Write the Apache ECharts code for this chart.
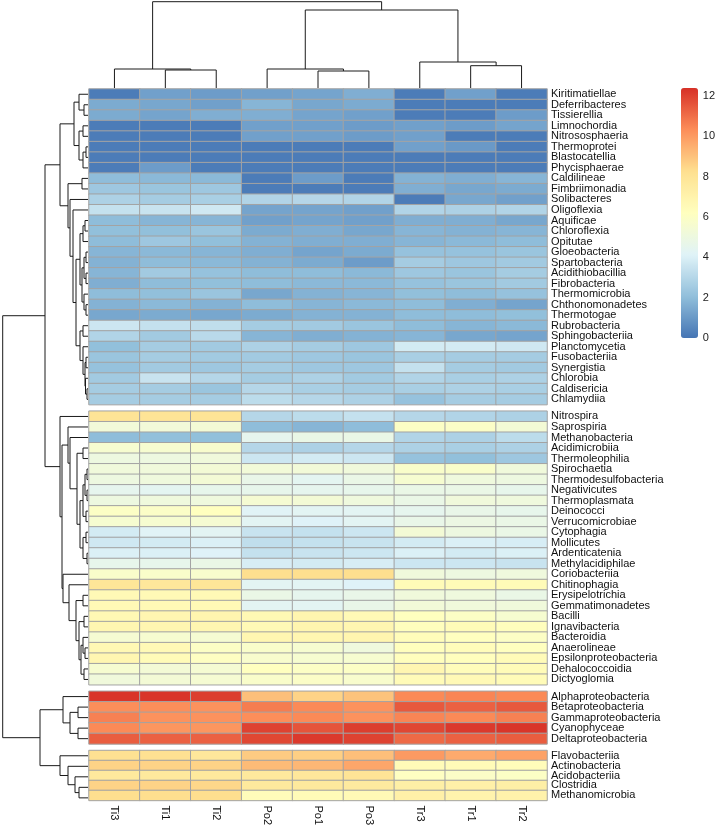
<!DOCTYPE html>
<html><head><meta charset="utf-8">
<script src="https://cdn.jsdelivr.net/npm/echarts@6/dist/echarts.min.js"></script>
<style>html,body{margin:0;padding:0;background:#fff}#c{width:718px;height:828px}</style>
</head><body><div id="c"></div>
<script>
// ---------------- DATA ----------------
const columns = ['Ti3','Ti1','Ti2','Po2','Po1','Po3','Tr3','Tr1','Tr2'];

const group1Names = ['Kiritimatiellae','Deferribacteres','Tissierellia','Limnochordia','Nitrososphaeria','Thermoprotei','Blastocatellia','Phycisphaerae','Caldilineae','Fimbriimonadia','Solibacteres','Oligoflexia','Aquificae','Chloroflexia','Opitutae','Gloeobacteria','Spartobacteria','Acidithiobacillia','Fibrobacteria','Thermomicrobia','Chthonomonadetes','Thermotogae','Rubrobacteria','Sphingobacteriia','Planctomycetia','Fusobacteriia','Synergistia','Chlorobia','Caldisericia','Chlamydiia'];
const group1Values = [
 [0.2,1.2,1.1,1.2,1.3,1.6,0.2,1.2,0.2],
 [1.5,1.4,1.2,1.8,1.4,1.5,0.2,0.2,0.2],
 [1.5,1.3,1.6,1.6,1.3,1.2,0.2,0.2,1.1],
 [0.2,0.2,0.2,1.2,1.2,1.1,1.2,1.1,1.3],
 [0.2,0.2,0.2,1.2,1.2,1.1,1.2,0.2,0.2],
 [0.2,0.2,0.2,0.2,0.2,0.2,1.2,1.0,0.2],
 [0.2,0.2,0.2,0.2,0.2,0.2,0.2,0.2,0.2],
 [0.2,1.1,0.2,0.2,0.2,0.2,0.2,0.2,0.2],
 [2.0,1.9,1.9,0.2,1.1,0.2,1.7,1.6,1.8],
 [2.4,2.3,2.4,0.2,0.2,0.2,1.6,1.4,1.5],
 [2.8,2.6,2.7,2.9,3.0,2.9,0.2,1.4,1.2],
 [3.4,3.5,3.7,1.3,1.3,1.2,2.9,2.8,2.9],
 [2.0,1.8,1.8,1.2,1.3,1.2,1.6,1.6,1.4],
 [2.1,2.1,2.3,1.5,1.6,1.4,1.8,1.7,1.8],
 [2.0,2.4,2.1,1.7,1.6,1.6,1.8,1.9,2.0],
 [1.8,1.9,1.8,1.6,1.3,1.5,2.2,2.2,2.3],
 [1.7,2.0,1.9,1.7,1.5,1.1,2.6,2.4,2.5],
 [1.8,2.5,2.2,2.0,2.0,1.9,2.4,2.3,2.6],
 [1.6,2.0,2.1,2.0,1.9,1.9,2.2,2.3,2.5],
 [2.0,2.1,2.3,1.4,1.7,1.8,2.1,2.0,2.2],
 [1.7,1.9,1.7,2.0,1.8,1.9,2.0,1.6,1.3],
 [1.4,1.5,1.4,1.5,1.7,1.7,2.0,2.0,2.1],
 [3.6,3.4,3.3,2.6,2.5,2.3,2.0,1.8,1.9],
 [2.9,2.5,3.1,1.8,1.6,1.7,1.8,1.4,1.3],
 [2.1,2.6,2.5,2.8,2.6,2.4,3.8,3.8,3.7],
 [2.3,2.6,2.5,2.5,2.4,2.3,2.7,2.6,2.6],
 [2.2,2.5,2.4,2.6,2.4,2.4,3.4,2.6,2.5],
 [2.5,3.5,3.0,2.6,2.8,2.5,2.9,2.7,2.8],
 [2.6,2.6,2.3,3.0,2.7,2.6,2.7,2.8,2.7],
 [2.6,2.6,2.6,3.2,3.0,2.8,2.2,2.6,2.6]
];

const group2Names = ['Nitrospira','Saprospiria','Methanobacteria','Acidimicrobiia','Thermoleophilia','Spirochaetia','Thermodesulfobacteria','Negativicutes','Thermoplasmata','Deinococci','Verrucomicrobiae','Cytophagia','Mollicutes','Ardenticatenia','Methylacidiphilae','Coriobacteriia','Chitinophagia','Erysipelotrichia','Gemmatimonadetes','Bacilli','Ignavibacteria','Bacteroidia','Anaerolineae','Epsilonproteobacteria','Dehalococcoidia','Dictyoglomia'];
const group2Values = [
 [8.0,8.0,8.0,3.0,3.2,3.4,3.0,2.9,2.8],
 [5.3,5.3,5.4,2.0,1.8,2.0,6.0,5.9,5.4],
 [2.0,2.1,2.1,4.5,4.8,4.8,2.9,2.8,3.2],
 [5.6,5.6,5.7,3.0,2.8,3.0,2.8,2.7,2.8],
 [5.0,5.0,5.2,3.6,3.8,3.6,2.2,2.1,2.4],
 [5.2,5.2,5.4,5.3,5.3,5.2,5.8,5.8,5.2],
 [5.0,5.1,5.4,4.7,4.4,4.8,5.6,5.1,5.0],
 [4.5,4.4,4.6,4.6,4.5,4.6,4.8,4.8,4.6],
 [5.0,5.1,5.1,5.5,5.4,5.1,4.8,5.2,5.1],
 [6.0,5.9,6.2,4.2,4.3,4.3,4.5,4.7,4.6],
 [5.6,5.6,5.5,4.3,4.1,4.3,4.7,4.9,4.8],
 [3.8,4.2,4.3,3.5,3.4,3.6,5.4,5.0,4.8],
 [3.7,3.8,4.0,3.3,3.4,3.5,3.8,4.0,3.9],
 [4.0,4.0,4.1,3.4,3.5,3.6,4.0,3.8,4.0],
 [4.6,4.6,4.8,3.9,3.8,3.9,3.6,3.6,3.5],
 [5.8,5.8,5.7,8.3,8.3,8.3,5.2,5.0,5.1],
 [7.9,7.8,7.9,4.3,4.3,4.1,6.5,6.5,6.5],
 [6.6,6.6,6.6,4.8,4.5,4.7,5.2,5.1,4.8],
 [6.6,6.6,6.6,4.3,4.3,4.7,5.3,5.2,5.2],
 [6.7,6.8,6.9,6.7,6.9,6.6,6.2,6.0,5.6],
 [6.8,6.8,6.8,6.6,6.9,6.8,6.3,6.5,6.3],
 [5.5,5.6,5.5,6.8,6.8,6.9,6.4,6.2,6.0],
 [6.7,6.6,6.0,5.8,5.6,5.1,6.3,6.4,6.2],
 [6.8,6.5,6.1,5.7,5.6,5.6,6.3,6.3,6.5],
 [5.6,5.4,5.5,6.2,6.0,6.0,6.8,6.4,6.5],
 [5.2,5.4,5.5,5.8,5.9,5.7,6.5,6.6,6.5]
];

const group3Names = ['Alphaproteobacteria','Betaproteobacteria','Gammaproteobacteria','Cyanophyceae','Deltaproteobacteria'];
const group3Values = [
 [12.3,12.3,12.1,9.1,8.6,9.0,10.4,10.5,10.4],
 [10.3,10.3,10.2,10.7,10.4,10.2,11.5,11.3,11.5],
 [10.6,10.2,10.2,10.3,10.4,10.2,10.5,10.4,10.6],
 [10.4,10.1,10.1,12.0,11.6,12.1,11.9,12.2,12.3],
 [11.4,11.3,11.3,11.9,12.2,12.0,11.1,11.3,11.4]
];

const group4Names = ['Flavobacteriia','Actinobacteria','Acidobacteriia','Clostridia','Methanomicrobia'];
const group4Values = [
 [8.2,8.2,7.8,8.8,8.7,9.1,10.0,9.6,9.8],
 [8.6,8.6,8.6,9.2,9.3,9.7,6.5,6.5,6.4],
 [7.7,7.7,7.7,7.7,7.8,8.0,6.1,5.9,6.0],
 [8.6,8.6,8.5,7.7,7.7,7.6,7.3,7.2,7.3],
 [8.3,8.3,8.3,6.4,6.5,6.6,7.2,7.0,7.1]
];

// column dendrogram (hclust-style merge: negative = leaf, positive = earlier merge)
const colMerge = [[-2,-3],[-1,1],[-5,-6],[-4,3],[-8,-9],[-7,5],[4,6],[2,7]];
const colHeight = [18,19,17,19,22.3,26,78,86.3];

// row dendrogram
const rowMerge = [
 [-2,-3],[-1,1],[-4,-5],[-6,-7],[4,-8],[3,5],[2,6],[-9,-10],
 [-13,-14],[9,-15],[-16,-17],[-18,-19],[11,12],[-21,-22],[-20,14],[13,15],[10,16],
 [-23,-24],[-26,-27],[-29,-30],[-28,20],[19,21],[-25,22],[18,23],[17,24],
 [-12,25],[-11,26],[8,27],[7,28],
 [-34,-35],[-36,-37],[-38,-39],[31,32],[-40,-41],[33,34],[-42,-43],[-44,-45],[36,37],[35,38],[30,39],
 [-33,40],[-32,41],[-48,-49],[-50,-51],[-53,-54],[-52,45],[-55,-56],[46,47],[44,48],[43,49],
 [-47,50],[-46,51],[42,52],[-31,53],[29,54],
 [-58,-59],[-60,-61],[56,57],[-57,58],
 [-65,-66],[-64,60],[-63,61],[-62,62],[59,63],[55,64]
];
const rowHeight = [
 4,9,5,2,5,9,14,6,
 3,5,2,2,4,2,4,6,8,
 5,2,1,2.5,3,5,8,12,
 15,18,20,28,
 5,1,1,3,2,5,2,1,5,8,11,
 18,20,5,4,3,5,4,7,9,12,
 19,25,26,28,43,
 10,10,18,25,
 9,13,20,28,48,85.3
];

const legendTicks = [0,2,4,6,8,10,12];
const colorStops = ['#4575B4','#91BFDB','#E0F3F8','#FFFFBF','#FEE090','#FC8D59','#D73027'];

// ---------------- LAYOUT ----------------
const groupNames = [group1Names, group2Names, group3Names, group4Names];
const groupValues = [group1Values, group2Values, group3Values, group4Values];
const HM_LEFT = 89, HM_W = 458, HM_TOP = 89, RH = 10.52, GAP = 6.6;
const groupTops = [];
let t = HM_TOP;
groupNames.forEach((g) => { groupTops.push(t); t += g.length * RH + GAP; });
const totalH = t - GAP - HM_TOP;

const leafPos = [];
groupNames.forEach((g, gi) => g.forEach((_, j) => leafPos.push(groupTops[gi] - HM_TOP + (j + 0.5) * RH)));
const colLeafPos = columns.map((_, i) => i + 0.5);

function dendroSegments(merge, heights, leaves) {
  const pos = [], segs = [];
  const get = (k) => k < 0 ? [leaves[-k - 1], 0] : [pos[k - 1], heights[k - 1]];
  merge.forEach((m, i) => {
    const a = get(m[0]), b = get(m[1]);
    pos[i] = (a[0] + b[0]) / 2;
    segs.push([a[0], b[0], a[1], b[1], heights[i]]);
  });
  return segs;
}

const FONT = 'Liberation Sans, Arial, sans-serif';
const LINE = { stroke: '#1a1a1a', lineWidth: 1, fill: null };
const grids = [], xAxes = [], yAxes = [], series = [];
groupNames.forEach((names, g) => {
  grids.push({ left: HM_LEFT, width: HM_W, top: groupTops[g], height: names.length * RH });
  xAxes.push({
    type: 'category', gridIndex: g, data: columns, show: g === 3,
    axisLine: { show: false }, axisTick: { show: false },
    axisLabel: { interval: 0, rotate: -90, margin: 5, fontSize: 11, color: '#111', fontFamily: FONT }
  });
  yAxes.push({
    type: 'category', gridIndex: g, data: names, inverse: true, position: 'right',
    axisLine: { show: false }, axisTick: { show: false },
    axisLabel: { interval: 0, hideOverlap: false, margin: 4, fontSize: 11, color: '#111', fontFamily: FONT }
  });
  const d = [];
  groupValues[g].forEach((row, r) => row.forEach((v, c) => d.push([c, r, v])));
  series.push({
    type: 'heatmap', xAxisIndex: g, yAxisIndex: g, data: d,
    itemStyle: { borderColor: '#a3a3a3', borderWidth: 1 },
    emphasis: { disabled: true }, silent: true
  });
});

// column dendrogram grid (4)
grids.push({ left: HM_LEFT, width: HM_W, top: 2, height: 86 });
xAxes.push({ type: 'value', gridIndex: 4, min: 0, max: columns.length, show: false });
yAxes.push({ type: 'value', gridIndex: 4, min: 0, max: 86, show: false });
series.push({
  type: 'custom', xAxisIndex: 4, yAxisIndex: 4, silent: true,
  data: dendroSegments(colMerge, colHeight, colLeafPos),
  renderItem: (p, api) => {
    const p1 = api.value(0), p2 = api.value(1), h1 = api.value(2), h2 = api.value(3), h = api.value(4);
    return { type: 'polyline', shape: { points: [api.coord([p1, h1]), api.coord([p1, h]), api.coord([p2, h]), api.coord([p2, h2])] }, style: LINE };
  }
});

// row dendrogram grid (5)
grids.push({ left: 0, width: 88, top: HM_TOP, height: totalH });
xAxes.push({ type: 'value', gridIndex: 5, min: 0, max: 88, inverse: true, show: false });
yAxes.push({ type: 'value', gridIndex: 5, min: 0, max: totalH, inverse: true, show: false });
series.push({
  type: 'custom', xAxisIndex: 5, yAxisIndex: 5, silent: true,
  data: dendroSegments(rowMerge, rowHeight, leafPos),
  renderItem: (p, api) => {
    const p1 = api.value(0), p2 = api.value(1), h1 = api.value(2), h2 = api.value(3), h = api.value(4);
    return { type: 'polyline', shape: { points: [api.coord([h1, p1]), api.coord([h, p1]), api.coord([h, p2]), api.coord([h2, p2])] }, style: LINE };
  }
});

// legend axis grid (6)
const LEG_MAX = 12.4;
grids.push({ left: 681, width: 17, top: 88, height: 250 });
xAxes.push({ type: 'value', gridIndex: 6, show: false });
yAxes.push({
  type: 'value', gridIndex: 6, min: 0, max: LEG_MAX, interval: 2, position: 'right',
  axisLine: { show: false }, axisTick: { show: false }, splitLine: { show: false },
  axisLabel: { margin: 7, fontSize: 11, color: '#222', fontFamily: FONT,
    formatter: (v) => legendTicks.includes(v) ? String(v) : '' }
});

const chart = echarts.init(document.getElementById('c'), null, { renderer: 'canvas' });
chart.setOption({
  animation: false,
  backgroundColor: '#fff',
  grid: grids, xAxis: xAxes, yAxis: yAxes, series: series,
  visualMap: {
    type: 'continuous', min: 0, max: LEG_MAX, seriesIndex: [0, 1, 2, 3], dimension: 2,
    calculable: false, orient: 'vertical', left: 681, top: 88, padding: 0,
    itemWidth: 17, itemHeight: 250, text: null, hoverLink: false,
    inRange: { color: colorStops }
  }
});
</script></body></html>
